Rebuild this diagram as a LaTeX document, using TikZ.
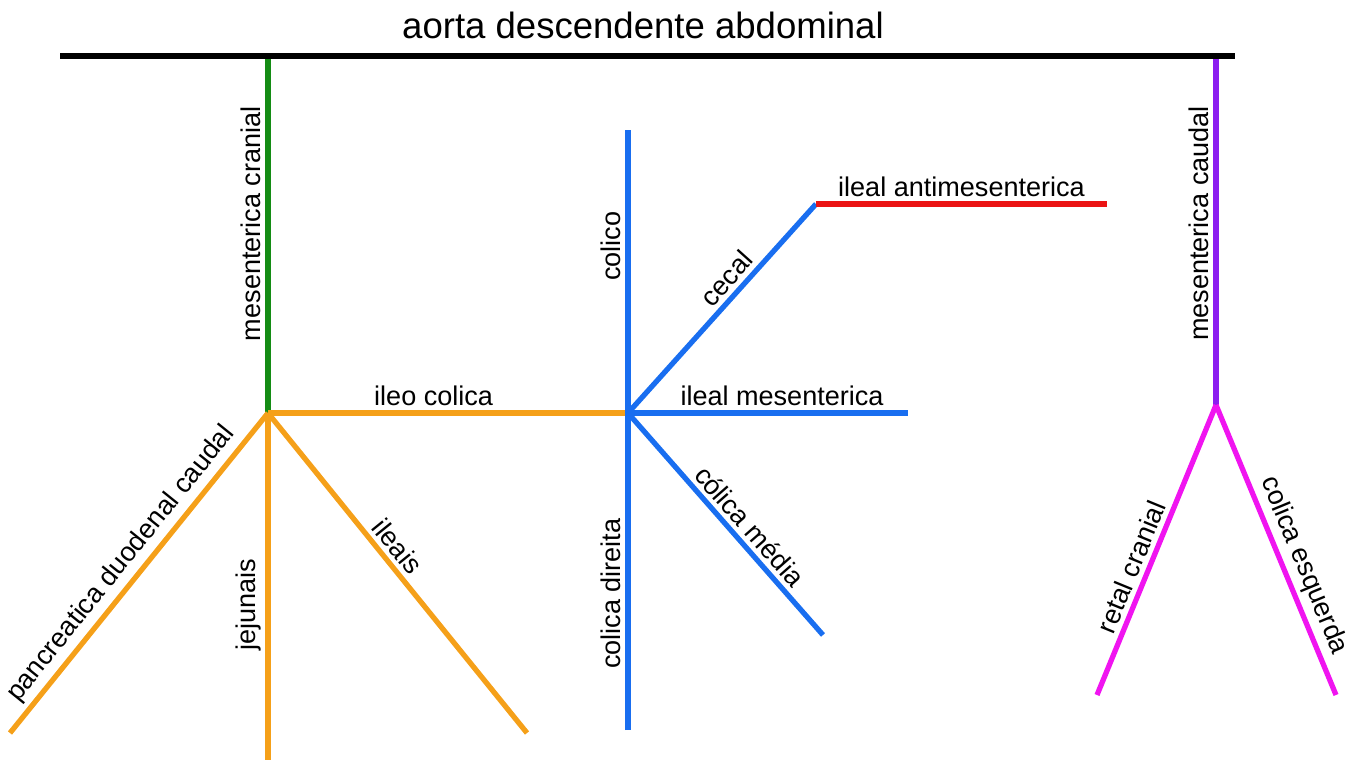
\documentclass[tikz,border=0pt]{standalone}
\usepackage{fontspec}
\setmainfont{Liberation Sans}

\definecolor{aortaBlack}{RGB}{0,0,0}
\definecolor{cranialGreen}{RGB}{20,140,20}
\definecolor{ileoOrange}{RGB}{245,160,25}
\definecolor{colicBlue}{RGB}{25,110,240}
\definecolor{antiRed}{RGB}{235,20,20}
\definecolor{caudalViolet}{RGB}{140,30,240}
\definecolor{rectMagenta}{RGB}{240,20,240}

\tikzset{
  vessel/.style={line width=3pt},
  lbl/.style={font=\fontsize{15.4}{18}\selectfont, inner sep=2.5pt, sloped, above},
}

\begin{document}
\begin{tikzpicture}[x=0.02cm, y=-0.02cm]
  \useasboundingbox (0,0) rectangle (1358,760);

  % aorta
  \coordinate (aortaL) at (60,56);
  \coordinate (aortaR) at (1235,56);
  \node[font=\fontsize{20.8}{24}\selectfont] (title) at (643,25) {aorta descendente abdominal};

  % branch points
  \coordinate (craTop) at (268,56);
  \coordinate (craHub) at (268,413);
  \coordinate (colHub) at (628,413);
  \coordinate (cecEnd) at (816,204);
  \coordinate (cauTop) at (1216,56);
  \coordinate (cauHub) at (1216,405);

  % free ends
  \coordinate (pancEnd) at (10,733);
  \coordinate (jejEnd) at (268,762);
  \coordinate (ileEnd) at (527,733);
  \coordinate (colTop) at (628,130);
  \coordinate (colBot) at (628,730);
  \coordinate (antiEnd) at (1107,204);
  \coordinate (mesEnd) at (908,413);
  \coordinate (medEnd) at (823,635);
  \coordinate (retEnd) at (1097,695);
  \coordinate (esqEnd) at (1336,695);

  % mesenterica cranial
  \draw[vessel, cranialGreen] (craHub) -- node[lbl, black, pos=0.53] (lCra) {mesenterica cranial} (craTop);

  % mesenterica caudal
  \draw[vessel, caudalViolet] (cauHub) -- node[lbl, black, pos=0.52] (lCau) {mesenterica caudal} (cauTop);

  % orange branches from mesenterica cranial
  \draw[vessel, ileoOrange] (craHub) -- node[lbl, black, pos=0.46] (lIleo) {ileo colica} (colHub);
  \draw[vessel, ileoOrange] (pancEnd) -- node[lbl, black, pos=0.49] (lPanc) {pancreatica duodenal caudal} (craHub);
  \draw[vessel, ileoOrange] (jejEnd) -- node[lbl, black, pos=0.45] (lJej) {jejunais} (craHub);
  \draw[vessel, ileoOrange] (craHub) -- node[lbl, black, pos=0.45] (lIle) {ileais} (ileEnd);

  % blue branches from ileo colica
  \draw[vessel, colicBlue] (colHub) -- node[lbl, black, pos=0.59] (lColico) {colico} (colTop);
  \draw[vessel, colicBlue] (colBot) -- node[lbl, black, pos=0.43] (lDir) {colica direita} (colHub);
  \draw[vessel, colicBlue] (colHub) -- node[lbl, black, pos=0.59] (lCec) {cecal} (cecEnd);
  \draw[vessel, colicBlue] (colHub) -- node[lbl, black, pos=0.55] (lMes) {ileal mesenterica} (mesEnd);
  \draw[vessel, colicBlue] (colHub) -- node[lbl, black, pos=0.56] (lMed) {cólica média} (medEnd);
  \draw[vessel, antiRed] (cecEnd) -- node[lbl, black, pos=0.5] (lAnti) {ileal antimesenterica} (antiEnd);

  % magenta branches from mesenterica caudal
  \draw[vessel, rectMagenta] (retEnd) -- node[lbl, black, pos=0.42] (lRet) {retal cranial} (cauHub);
  \draw[vessel, rectMagenta] (cauHub) -- node[lbl, black, pos=0.58] (lEsq) {colica esquerda} (esqEnd);

  % aorta on top
  \draw[line width=3.8pt, aortaBlack] (aortaL) -- (aortaR);
\end{tikzpicture}
\end{document}
